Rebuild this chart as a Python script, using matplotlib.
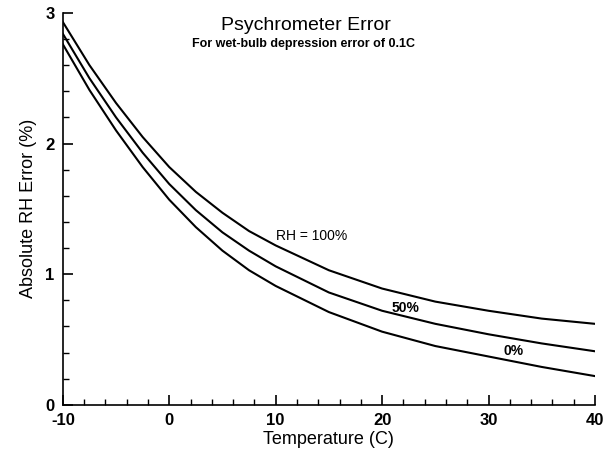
import matplotlib
matplotlib.use("Agg")
import matplotlib.pyplot as plt
from matplotlib.ticker import MultipleLocator

plt.rcParams['font.family'] = ['Liberation Sans', 'DejaVu Sans']
plt.rcParams['axes.unicode_minus'] = False

temperature = [-10, -7.5, -5, -2.5, 0, 2.5, 5, 7.5, 10, 15, 20, 25, 30, 35, 40]
rh_100 = [2.93, 2.60, 2.31, 2.05, 1.82, 1.63, 1.47, 1.33, 1.22, 1.03, 0.89, 0.79, 0.72, 0.66, 0.62]
rh_50 = [2.84, 2.50, 2.20, 1.93, 1.69, 1.49, 1.32, 1.18, 1.06, 0.86, 0.72, 0.62, 0.54, 0.47, 0.41]
rh_0 = [2.76, 2.41, 2.10, 1.82, 1.57, 1.36, 1.18, 1.03, 0.91, 0.71, 0.56, 0.45, 0.37, 0.29, 0.22]

x_ticks = [-10, 0, 10, 20, 30, 40]
y_ticks = [0, 1, 2, 3]

fig = plt.figure(figsize=(6.04, 4.59), dpi=100)
ax = fig.add_axes([0.104, 0.118, 0.881, 0.854])

for series in (rh_100, rh_50, rh_0):
    ax.plot(temperature, series, color='black', lw=1.5)

ax.set_xlim(-10, 40)
ax.set_ylim(0, 3)
ax.set_xticks(x_ticks)
ax.set_yticks(y_ticks)
ax.xaxis.set_minor_locator(MultipleLocator(2))
ax.yaxis.set_minor_locator(MultipleLocator(0.2))
ax.tick_params(which='major', direction='in', length=7, width=1.2, labelsize=12, pad=6)
ax.tick_params(which='minor', direction='in', length=4, width=1.0)
for lab in ax.get_xticklabels() + ax.get_yticklabels():
    lab.set_fontweight('bold')

for s in ('top', 'right'):
    ax.spines[s].set_visible(False)
for s in ('left', 'bottom'):
    ax.spines[s].set_linewidth(1.2)

ax.set_xlabel('Temperature (C)', fontsize=13, labelpad=2)
ax.set_ylabel('Absolute RH Error (%)', fontsize=13, labelpad=6)

fig.text(0.507, 0.945, 'Psychrometer Error', fontsize=14, ha='center', va='center')
fig.text(0.503, 0.905, 'For wet-bulb depression error of 0.1C', fontsize=9,
         fontweight='bold', ha='center', va='center')

ax.text(10.0, 1.29, 'RH = 100%', fontsize=10, ha='left', va='center')
ax.text(20.9, 0.74, '50%', fontsize=10, fontweight='bold', ha='left', va='center')
ax.text(31.4, 0.41, '0%', fontsize=10, fontweight='bold', ha='left', va='center')

fig.savefig('out.png', dpi=100)
